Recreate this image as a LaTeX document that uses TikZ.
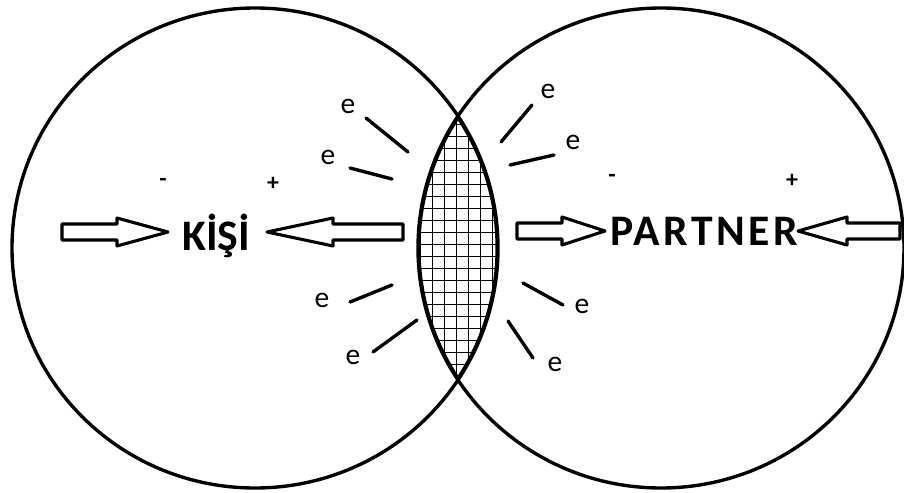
\documentclass[tikz,border=0pt]{standalone}
\usepackage{fontspec}
\setmainfont{Carlito}
\usetikzlibrary{positioning}

% hollow block arrow: tail x, head base x, tip x, centre y
\newcommand{\blockarrow}[4]{%
  \draw[arrowline] (#1,#4-8) -- (#2,#4-8) -- (#2,#4-14) -- (#3,#4)
    -- (#2,#4+14) -- (#2,#4+8) -- (#1,#4+8) -- cycle;}

\begin{document}
\begin{tikzpicture}[
    x=0.025cm, y=-0.025cm, line join=round,
    ring/.style={line width=2.4pt},
    lensline/.style={line width=3.6pt},
    gridline/.style={line width=0.7pt},
    arrowline/.style={line width=2.2pt},
    dashline/.style={line width=2.4pt, line cap=round},
    persontext/.style={font=\fontsize{31}{31}\selectfont\bfseries, inner sep=0pt, anchor=base},
    elabel/.style={font=\fontsize{21}{21}\selectfont, inner sep=0pt},
    sign/.style={font=\fontsize{17}{17}\selectfont\bfseries, inner sep=0pt}
]
\useasboundingbox (0,0) rectangle (904,493);

% the two circles
\draw[ring] (255,248) ellipse [x radius=243, y radius=240];
\draw[ring] (661,248) ellipse [x radius=243, y radius=240];

% hatched overlap
\begin{scope}
  \clip (255,248) ellipse [x radius=243, y radius=240];
  \clip (661,248) ellipse [x radius=243, y radius=240];
  \foreach \gx in {408,420,...,504} \draw[gridline] (\gx,100) -- (\gx,400);
  \foreach \gy in {112,124,...,388} \draw[gridline] (400,\gy) -- (510,\gy);
  \draw[lensline] (255,248) ellipse [x radius=243, y radius=240];
  \draw[lensline] (661,248) ellipse [x radius=243, y radius=240];
\end{scope}

% labels
\node[persontext] (kisi) at (216,250) {KİŞİ};
\node[persontext] (partner) at (704,245) {\addfontfeature{LetterSpace=8}PARTNER};

\node[sign] (minusL) at (163,182) {-};
\node[sign] (plusL) at (273,184) {+};
\node[sign] (minusR) at (612,178) {-};
\node[sign] (plusR) at (792,181) {+};

% arrows
\blockarrow{62}{117}{168}{232}
\blockarrow{403}{333}{267}{232}
\blockarrow{517}{562}{605}{231}
\blockarrow{900}{847}{798}{231}

% electrons
\node[elabel] (e1) at (348,106) {e};
\node[elabel] (e2) at (328,157) {e};
\node[elabel] (e3) at (322,300) {e};
\node[elabel] (e4) at (353,357) {e};
\node[elabel] (e5) at (548,91) {e};
\node[elabel] (e6) at (573,142) {e};
\node[elabel] (e7) at (582,306) {e};
\node[elabel] (e8) at (555,364) {e};

\draw[dashline] (366,118) -- (408,152);
\draw[dashline] (350,168) -- (392,179);
\draw[dashline] (350,302) -- (392,285);
\draw[dashline] (373,352) -- (417,320);
\draw[dashline] (501,142) -- (532,105);
\draw[dashline] (510,165) -- (554,155);
\draw[dashline] (523,283) -- (563,305);
\draw[dashline] (508,321) -- (533,358);
\end{tikzpicture}
\end{document}
